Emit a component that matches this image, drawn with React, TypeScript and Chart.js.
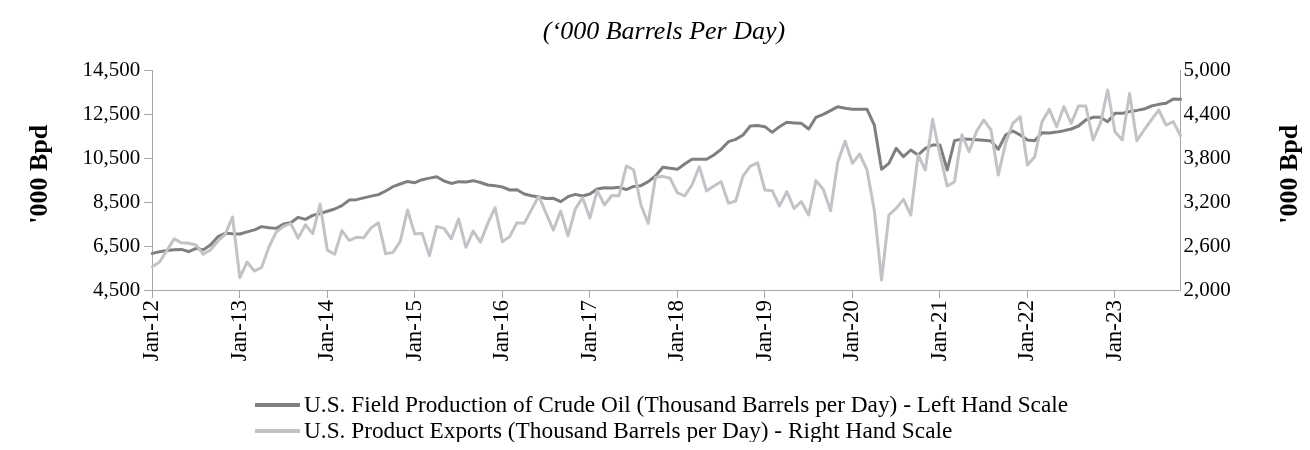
import React, { useEffect, useRef } from "react";
import { Chart, registerables } from "chart.js";

Chart.register(...registerables);

// ---------- data ----------
const MONTH_NAMES = ["Jan", "Feb", "Mar", "Apr", "May", "Jun", "Jul", "Aug", "Sep", "Oct", "Nov", "Dec"];
const YEARS = ["12", "13", "14", "15", "16", "17", "18", "19", "20", "21", "22", "23"];

// U.S. Field Production of Crude Oil ('000 b/d) - left scale
const crudeProduction = [
  6170, 6240, 6300, 6340, 6350, 6250, 6400, 6330, 6560, 6930, 7085, 7060, // 2012
  7054, 7150, 7240, 7390, 7340, 7310, 7510, 7570, 7814, 7722, 7905, 7990, // 2013
  8090, 8194, 8346, 8600, 8620, 8700, 8780, 8850, 9014, 9212, 9334, 9450, // 2014
  9395, 9530, 9600, 9668, 9470, 9360, 9440, 9425, 9486, 9400, 9290, 9250, // 2015
  9200, 9060, 9070, 8878, 8800, 8740, 8670, 8680, 8530, 8756, 8862, 8786, // 2016
  8878, 9106, 9166, 9150, 9180, 9080, 9220, 9258, 9440, 9698, 10094, 10048, // 2017
  10002, 10246, 10459, 10459, 10459, 10656, 10914, 11264, 11370, 11568, 11978, 12000, // 2018
  11948, 11690, 11948, 12146, 12120, 12100, 11842, 12374, 12510, 12680, 12860, 12784, // 2019
  12738, 12738, 12738, 12024, 10002, 10276, 10960, 10580, 10884, 10656, 10960, 11112, // 2020
  11112, 9972, 11310, 11380, 11370, 11350, 11330, 11294, 10914, 11568, 11750, 11568, // 2021
  11340, 11310, 11674, 11660, 11700, 11766, 11842, 11978, 12252, 12374, 12374, 12176, // 2022
  12556, 12556, 12640, 12690, 12750, 12890, 12966, 13012, 13210, 13195, // 2023
];

// U.S. Product Exports ('000 b/d) - right scale
const productExports = [
  2319, 2383, 2540, 2699, 2645, 2640, 2615, 2489, 2550, 2671, 2760, 2999, // 2012
  2169, 2383, 2260, 2310, 2590, 2794, 2871, 2908, 2710, 2892, 2771, 3173, // 2013
  2545, 2489, 2812, 2680, 2720, 2716, 2850, 2920, 2495, 2515, 2665, 3095, // 2014
  2765, 2775, 2470, 2870, 2843, 2700, 2973, 2584, 2805, 2655, 2912, 3128, // 2015
  2661, 2730, 2921, 2912, 3100, 3286, 3049, 2820, 3080, 2740, 3108, 3263, // 2016
  2985, 3360, 3163, 3293, 3290, 3696, 3645, 3163, 2912, 3541, 3555, 3528, // 2017
  3331, 3286, 3436, 3687, 3354, 3422, 3482, 3186, 3218, 3559, 3696, 3740, // 2018
  3368, 3359, 3149, 3345, 3117, 3208, 3026, 3496, 3377, 3085, 3756, 4035, // 2019
  3733, 3860, 3642, 3094, 2137, 3026, 3117, 3240, 3026, 3847, 3642, 4335, // 2020
  3847, 3422, 3482, 4125, 3892, 4166, 4326, 4189, 3573, 4006, 4280, 4371, // 2021
  3710, 3824, 4303, 4471, 4234, 4508, 4280, 4517, 4517, 4052, 4280, 4736, // 2022
  4166, 4052, 4690, 4043, 4189, 4326, 4462, 4257, 4303, 4110, // 2023
];

const allMonths: string[] = [];
YEARS.forEach((y) => MONTH_NAMES.forEach((m) => allMonths.push(`${m}-${y}`)));
const categories = allMonths.slice(0, crudeProduction.length);

const leftTicks = [4500, 6500, 8500, 10500, 12500, 14500];
const rightTicks = [2000, 2600, 3200, 3800, 4400, 5000];

const TITLE = "(\u2018000 Barrels Per Day)";
const AXIS_TITLE = "'000 Bpd";
const SERIES_LABELS = [
  "U.S. Field Production of Crude Oil (Thousand Barrels per Day) - Left Hand Scale",
  "U.S. Product Exports (Thousand Barrels per Day) - Right Hand Scale",
];

// ---------- styling ----------
const FONT = '"Liberation Serif", "Times New Roman", serif';
const DARK = "#7f7f7f";
const LIGHT = "#c3c3c7";
const AXIS = "#a6a6a6";
const TEXT = "#000000";
const W = 1310;
const H = 450;

const fmt = (v: number) => String(Math.round(v)).replace(/\B(?=(\d{3})+(?!\d))/g, ",");

const overlayPlugin = {
  id: "overlay",
  afterDraw(chart: any) {
    const ctx = chart.ctx as CanvasRenderingContext2D;
    const area = chart.chartArea;
    ctx.save();
    ctx.fillStyle = TEXT;

    // title
    ctx.font = `italic 26px ${FONT}`;
    ctx.textAlign = "center";
    ctx.textBaseline = "middle";
    ctx.fillText(TITLE, 664, 32);

    // axis titles
    const midY = (area.top + area.bottom) / 2 - 6;
    ctx.font = `bold 26px ${FONT}`;
    [40, 1290].forEach((x) => {
      ctx.save();
      ctx.translate(x, midY);
      ctx.rotate(-Math.PI / 2);
      ctx.textAlign = "center";
      ctx.textBaseline = "middle";
      ctx.fillText(AXIS_TITLE, 0, 0);
      ctx.restore();
    });

    // legend
    ctx.font = `23.3px ${FONT}`;
    ctx.textAlign = "left";
    ctx.textBaseline = "middle";
    const rows = [405, 431];
    chart.data.datasets.forEach((ds: any, i: number) => {
      const y = rows[i];
      ctx.strokeStyle = ds.borderColor;
      ctx.lineWidth = 4;
      ctx.beginPath();
      ctx.moveTo(255, y);
      ctx.lineTo(300, y);
      ctx.stroke();
      ctx.fillStyle = TEXT;
      ctx.fillText(ds.label, 304, y + 1);
    });
    ctx.restore();
  },
};

export default function App() {
  const canvasRef = useRef<HTMLCanvasElement | null>(null);

  useEffect(() => {
    if (!canvasRef.current) return;
    const chart = new Chart(canvasRef.current, {
      type: "line",
      data: {
        labels: categories,
        datasets: [
          {
            label: SERIES_LABELS[0],
            data: crudeProduction,
            borderColor: DARK,
            backgroundColor: DARK,
            borderWidth: 3,
            pointRadius: 0,
            tension: 0,
            borderJoinStyle: "round",
            borderCapStyle: "round",
            yAxisID: "y",
            order: 1,
          },
          {
            label: SERIES_LABELS[1],
            data: productExports,
            borderColor: LIGHT,
            backgroundColor: LIGHT,
            borderWidth: 3,
            pointRadius: 0,
            tension: 0,
            borderJoinStyle: "round",
            borderCapStyle: "round",
            yAxisID: "y1",
            order: 0,
          },
        ],
      },
      options: {
        responsive: false,
        animation: false,
        events: [],
        layout: { padding: { top: 70.7, left: 0, right: 0, bottom: 0 } },
        plugins: {
          legend: { display: false },
          title: { display: false },
          tooltip: { enabled: false },
        },
        scales: {
          x: {
            type: "category",
            offset: false,
            border: { display: true, color: AXIS, width: 1 },
            grid: { display: true, drawOnChartArea: false, drawTicks: true, tickLength: 8, color: AXIS, lineWidth: 1 },
            ticks: {
              autoSkip: false,
              maxRotation: 90,
              minRotation: 90,
              padding: 2,
              color: TEXT,
              font: { family: FONT, size: 23 },
              callback: (_v: any, i: number) => (i % 12 === 0 ? categories[i] : null),
            },
            afterFit: (s: any) => {
              s.height = 160;
            },
          },
          y: {
            type: "linear",
            position: "left",
            min: 4500,
            max: 14500,
            border: { display: true, color: AXIS, width: 1 },
            grid: { display: true, drawOnChartArea: false, drawTicks: true, tickLength: 8, color: AXIS },
            ticks: { padding: 4, color: TEXT, font: { family: FONT, size: 21 }, callback: (v: any) => fmt(Number(v)) },
            afterBuildTicks: (s: any) => {
              s.ticks = leftTicks.map((v) => ({ value: v }));
            },
            afterFit: (s: any) => {
              s.width = 152.3;
            },
          },
          y1: {
            type: "linear",
            position: "right",
            min: 2000,
            max: 5000,
            border: { display: true, color: AXIS, width: 1 },
            grid: { display: false, drawOnChartArea: false, drawTicks: false },
            ticks: { padding: 3, color: TEXT, font: { family: FONT, size: 21 }, callback: (v: any) => fmt(Number(v)) },
            afterBuildTicks: (s: any) => {
              s.ticks = rightTicks.map((v) => ({ value: v }));
            },
            afterFit: (s: any) => {
              s.width = 129.4;
            },
          },
        },
      },
      plugins: [overlayPlugin],
    } as any);
    return () => chart.destroy();
  }, []);

  return (
    <div style={{ width: W, height: H, margin: -8, position: "relative" }}>
      <canvas ref={canvasRef} width={W} height={H} style={{ display: "block", width: W, height: H }} />
    </div>
  );
}
